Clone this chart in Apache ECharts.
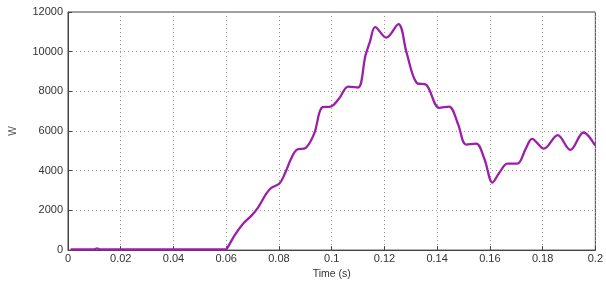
<!DOCTYPE html>
<html>
<head>
<meta charset="utf-8">
<script src="https://cdn.jsdelivr.net/npm/echarts@6/dist/echarts.min.js"></script>
<style>
  html, body { margin: 0; padding: 0; background: #fff; }
  #chart { width: 606px; height: 285px; }
</style>
</head>
<body>
<div id="chart"></div>
<script>
// 时间 (s)
const timeS = [
  0.001, 0.010, 0.011, 0.012, 0.030, 0.0598,
  0.0602, 0.0633, 0.0664, 0.0695, 0.072, 0.0752, 0.0771, 0.0802, 0.0821,
  0.0846, 0.0867, 0.0902, 0.0934, 0.0965, 0.0996, 0.1028, 0.1063, 0.1100,
  0.1128, 0.1145, 0.1165, 0.1207, 0.1253, 0.1284, 0.1322, 0.1359, 0.1408,
  0.1445, 0.1479, 0.1510, 0.1548, 0.1579, 0.1610, 0.1635, 0.1667, 0.1704,
  0.1735, 0.1760, 0.1805, 0.1857, 0.1905, 0.1955, 0.1999
];
// 功率 W
const powerW = [
  40, 40, 90, 40, 40, 40,
  60, 767, 1328, 1725, 2128, 2847, 3134, 3355, 3805,
  4601, 5051, 5150, 5880, 7207, 7236, 7639, 8243, 8195,
  9796, 10500, 11233, 10706, 11392, 9955, 8435, 8325, 7170,
  7236, 6360, 5320, 5368, 4601, 3403, 3882, 4361, 4361,
  5080, 5607, 5113, 5799, 5051, 5928, 5272
];
const xTicks = { min: 0, max: 0.2, interval: 0.02 };
const yTicks = { min: 0, max: 12000, interval: 2000 };

const chart = echarts.init(document.getElementById('chart'));
const font = 'Liberation Sans, Arial, sans-serif';
chart.setOption({
  animation: false,
  grid: {
    left: 66, right: 7, top: 12, bottom: 22,
    show: true, borderColor: '#444', borderWidth: 1
  },
  xAxis: {
    type: 'value',
    min: xTicks.min, max: xTicks.max, interval: xTicks.interval,
    name: 'Time (s)', nameLocation: 'middle', nameGap: 15,
    nameTextStyle: { fontFamily: font, fontSize: 10.5, color: '#333' },
    axisLine: { lineStyle: { color: '#444' } },
    axisTick: { inside: true, length: 4, lineStyle: { color: '#444' } },
    axisLabel: {
      fontFamily: font, fontSize: 11, color: '#333', margin: 3,
      formatter: v => String(+v.toFixed(2))
    },
    splitLine: { show: true, lineStyle: { color: '#999', type: [1, 3], width: 1 } }
  },
  yAxis: {
    type: 'value',
    min: yTicks.min, max: yTicks.max, interval: yTicks.interval,
    name: 'W', nameLocation: 'middle', nameGap: 50, nameRotate: 90,
    nameTextStyle: { fontFamily: font, fontSize: 10, color: '#555' },
    axisLine: { show: true, lineStyle: { color: '#444' } },
    axisTick: { show: true, inside: true, length: 4, lineStyle: { color: '#444' } },
    axisLabel: { fontFamily: font, fontSize: 11, color: '#333', margin: 5, formatter: v => String(v) },
    splitLine: { show: true, lineStyle: { color: '#999', type: [1, 3], width: 1 } }
  },
  series: [{
    type: 'line',
    data: timeS.map((t, i) => [t, powerW[i]]),
    smooth: 0.35,
    showSymbol: false,
    lineStyle: { color: '#9b1fa9', width: 2.3 }
  }]
});
</script>
</body>
</html>
